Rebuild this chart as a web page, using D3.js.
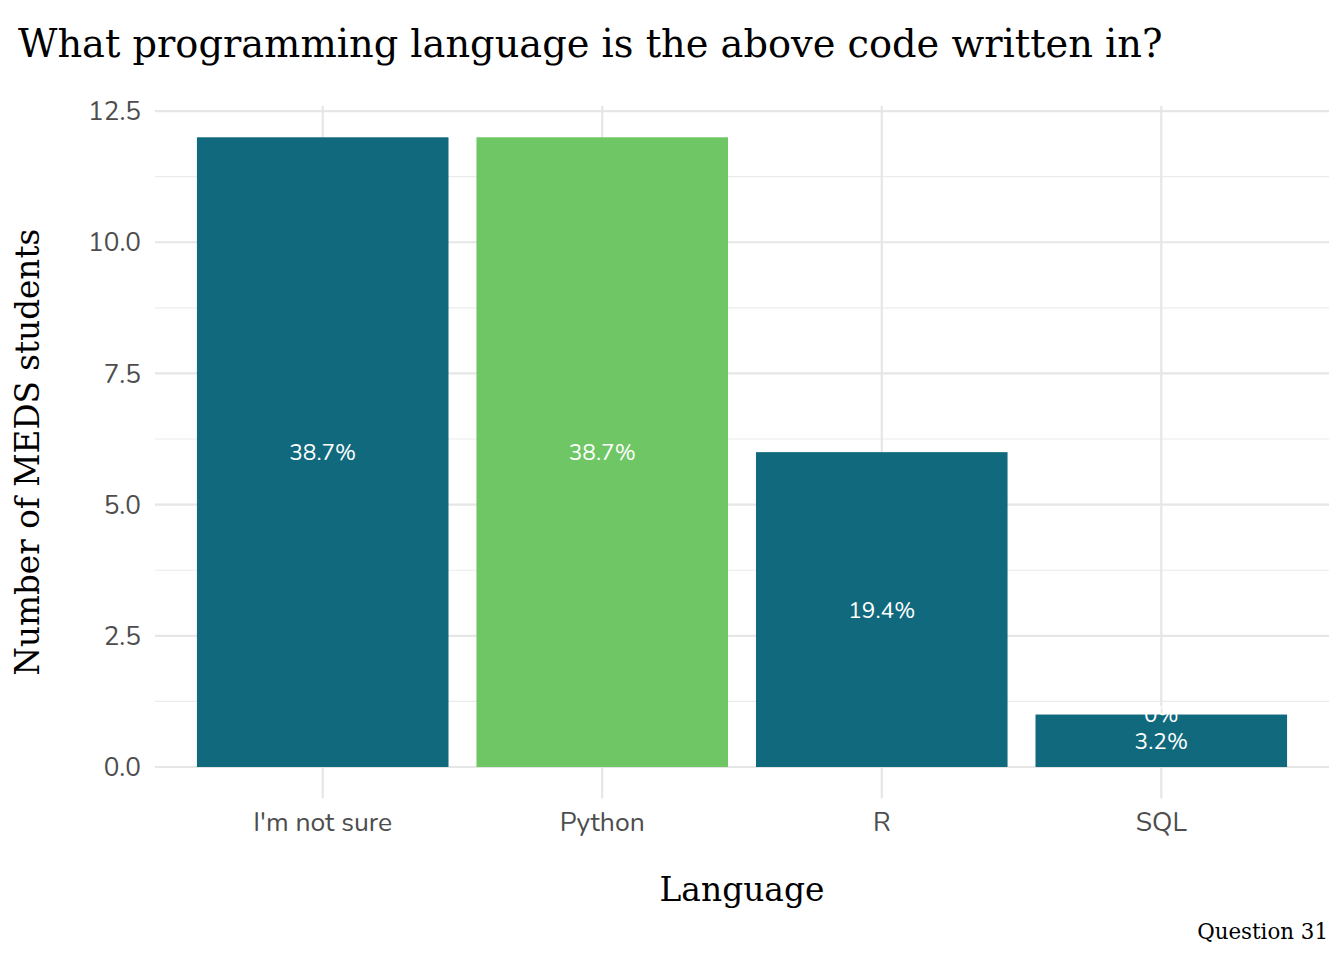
<!DOCTYPE html>
<html><head><meta charset="utf-8">
<script src="https://cdn.jsdelivr.net/npm/d3@7"></script>
<style>body{margin:0;background:#fff}svg{display:block}</style>
</head><body>
<svg id="c" width="1344" height="960"></svg>
<script>
const categories = ["I'm not sure", "Python", "R", "SQL"];
const counts = [12, 12, 6, 1];
const fills = ["#10697d", "#6ec665", "#10697d", "#10697d"];
const pctLabels = ["38.7%", "38.7%", "19.4%", "3.2%"];
// extra zero-count label stacked on SQL bar
const zeroLabels = [{cat: "SQL", y: 1, text: "0%"}];
const yTicks = [0, 2.5, 5, 7.5, 10, 12.5];
const yMinor = [1.25, 3.75, 6.25, 8.75, 11.25];

const svg = d3.select("#c");
const L = 155, R = 1329, T = 105.8, B = 798.5;
const sans = "Nunito, Lato, 'Noto Sans', sans-serif";
const serif = "'DejaVu Serif', serif";

const x = d3.scaleBand().domain(categories).range([L, R]).paddingInner(0.1).paddingOuter(0.15);
const y = d3.scaleLinear().domain([-0.6, 12.6]).range([B, T]);

function fit(sel, target) {
  const w = sel.node().getComputedTextLength();
  const fs = parseFloat(sel.attr("font-size"));
  sel.attr("font-size", fs * target / w);
}
function fitGroup(sel, idx, target) {
  const n = sel.nodes()[idx];
  const w = n.getComputedTextLength();
  const fs = parseFloat(d3.select(n).attr("font-size"));
  sel.attr("font-size", fs * target / w);
}

const g = svg.append("g");
g.selectAll(".mn").data(yMinor).join("line")
  .attr("x1", L).attr("x2", R).attr("y1", d => y(d)).attr("y2", d => y(d))
  .attr("stroke", "#ebebeb").attr("stroke-width", 1.1);
g.selectAll(".mj").data(yTicks).join("line")
  .attr("x1", L).attr("x2", R).attr("y1", d => y(d)).attr("y2", d => y(d))
  .attr("stroke", "#e6e6e6").attr("stroke-width", 2.2);
g.selectAll(".vx").data(categories).join("line")
  .attr("x1", d => x(d) + x.bandwidth()/2).attr("x2", d => x(d) + x.bandwidth()/2)
  .attr("y1", T).attr("y2", B)
  .attr("stroke", "#e6e6e6").attr("stroke-width", 2.2);

g.selectAll(".bar").data(categories).join("rect")
  .attr("x", d => x(d)).attr("width", x.bandwidth())
  .attr("y", (d, i) => y(counts[i])).attr("height", (d, i) => y(0) - y(counts[i]))
  .attr("fill", (d, i) => fills[i]);

const labs = g.selectAll(".lab").data(categories).join("text")
  .attr("x", d => x(d) + x.bandwidth()/2)
  .attr("y", (d, i) => y(counts[i] / 2))
  .attr("dy", "0.35em").attr("text-anchor", "middle")
  .attr("font-family", sans).attr("font-size", 20).attr("fill", "#fff")
  .text((d, i) => pctLabels[i]);
fitGroup(labs, 0, 67);
const labFs = labs.attr("font-size");
g.selectAll(".zl").data(zeroLabels).join("text")
  .attr("x", d => x(d.cat) + x.bandwidth()/2)
  .attr("y", d => y(d.y))
  .attr("dy", "0.35em").attr("text-anchor", "middle")
  .attr("font-family", sans).attr("font-size", labFs).attr("fill", "#fff")
  .text(d => d.text);

const yt = g.selectAll(".yt").data(yTicks).join("text")
  .attr("x", 141).attr("y", d => y(d)).attr("dy", "0.35em")
  .attr("text-anchor", "end").attr("font-family", sans).attr("font-size", 22)
  .attr("fill", "#4d4d4d").text(d => d3.format(".1f")(d));
fitGroup(yt, 5, 53);

const xt = g.selectAll(".xt").data(categories).join("text")
  .attr("x", d => x(d) + x.bandwidth()/2).attr("y", 822).attr("dy", "0.35em")
  .attr("text-anchor", "middle").attr("font-family", sans).attr("font-size", 22)
  .attr("fill", "#4d4d4d").text(d => d);
fitGroup(xt, 0, 139);

const title = svg.append("text").attr("x", 18).attr("y", 57)
  .attr("font-family", serif).attr("font-size", 34).attr("fill", "#000")
  .text("What programming language is the above code written in?");
fit(title, 1145);

const xl = svg.append("text").attr("x", (L + R) / 2).attr("y", 889).attr("dy", "0.35em")
  .attr("text-anchor", "middle").attr("font-family", serif).attr("font-size", 28)
  .attr("fill", "#000").text("Language");
fit(xl, 165);

const yl = svg.append("text").attr("transform", `translate(28,${(T + B) / 2}) rotate(-90)`)
  .attr("dy", "0.35em").attr("text-anchor", "middle").attr("font-family", serif)
  .attr("font-size", 28).attr("fill", "#000").text("Number of MEDS students");
fit(yl, 447);

const cap = svg.append("text").attr("x", 1328).attr("y", 932).attr("dy", "0.35em")
  .attr("text-anchor", "end").attr("font-family", serif).attr("font-size", 18)
  .attr("fill", "#000").text("Question 31");
fit(cap, 131);
</script>
</body></html>
